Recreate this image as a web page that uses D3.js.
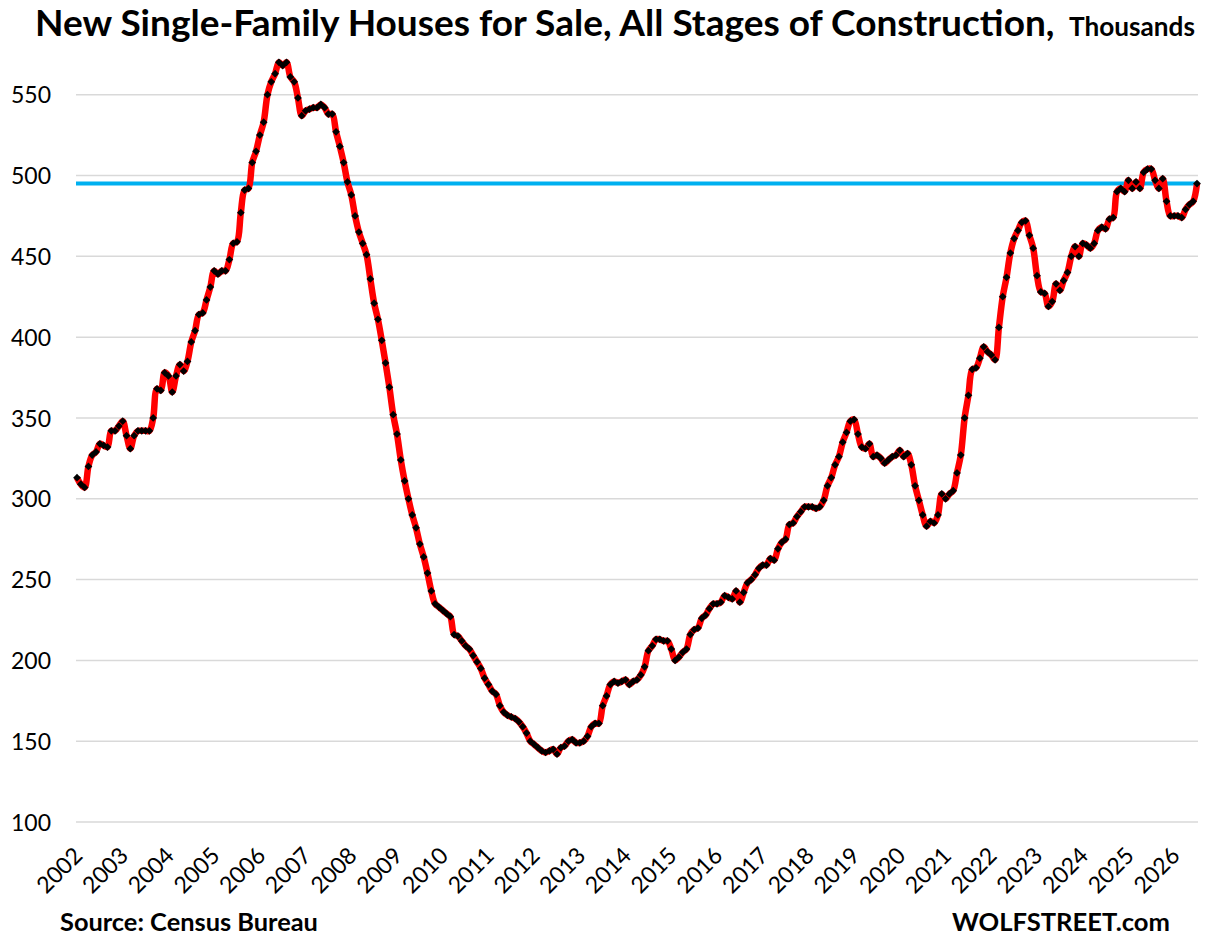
<!DOCTYPE html>
<html>
<head>
<meta charset="utf-8">
<script src="https://cdn.jsdelivr.net/npm/d3@7"></script>
<style>
  body { margin: 0; background: #ffffff; }
  svg { display: block; }
  text { font-family: Lato, "Open Sans", sans-serif; fill: #000000; }
</style>
</head>
<body>
<svg id="chart" width="1211" height="947"></svg>
<script>
// monthly values, Jan 2002 onwards (thousands of houses)
var startYear = 2002;
var forSale = [
	313, 309, 307, 320, 327, 329, 334, 333, 332, 342,
	342, 345, 348, 339, 331, 339, 342, 342, 342, 342,
	350, 368, 367, 378, 376, 366, 376, 383, 379, 385,
	397, 404, 414, 415, 423, 431, 441, 439, 441, 441,
	448, 458, 459, 477, 491, 492, 508, 515, 525, 533,
	550, 558, 563, 570, 568, 570, 561, 558, 548, 537,
	540, 541, 542, 542, 544, 542, 538, 538, 527, 518,
	508, 496, 488, 475, 465, 458, 451, 436, 421, 411,
	398, 384, 369, 352, 340, 324, 311, 300, 290, 282,
	272, 264, 254, 243, 235, 233, 231, 229, 227, 216,
	215, 212, 209, 207, 203, 199, 195, 189, 185, 181,
	179, 172, 168, 166, 165, 164, 162, 159, 155, 150,
	148, 146, 144, 143, 144, 145, 142, 146, 147, 150,
	151, 149, 149, 150, 153, 159, 161, 161, 172, 178,
	185, 187, 186, 187, 188, 185, 187, 188, 191, 196,
	206, 209, 213, 213, 212, 212, 207, 200, 202, 205,
	207, 216, 219, 220, 226, 228, 232, 235, 235, 236,
	240, 239, 238, 243, 236, 242, 248, 250, 253, 257,
	259, 259, 263, 262, 269, 273, 275, 284, 285, 289,
	292, 295, 295, 295, 294, 295, 299, 308, 313, 321,
	326, 335, 341, 348, 349, 340, 332, 331, 334, 326,
	327, 325, 322, 324, 326, 327, 330, 326, 328, 321,
	308, 299, 290, 283, 286, 285, 290, 303, 300, 303,
	305, 316, 327, 350, 364, 380, 381, 387, 394, 391,
	389, 386, 406, 425, 437, 452, 461, 466, 471, 472,
	463, 455, 438, 428, 427, 419, 422, 433, 429, 435,
	440, 450, 456, 450, 458, 457, 455, 458, 466, 468,
	467, 473, 474, 490, 492, 490, 497, 492, 496, 492,
	502, 504, 504, 497, 492, 498, 484, 475, 475, 475,
	474, 479, 482, 484, 495
];
var yTicks = [100, 150, 200, 250, 300, 350, 400, 450, 500, 550];
var yearLabels = d3.range(2002, 2027);
var refLevel = 495;   // latest value, drawn across the chart

var titleText = "New Single-Family Houses for Sale, All Stages of Construction,";
var unitText = "Thousands";
var sourceText = "Source: Census Bureau";
var siteText = "WOLFSTREET.com";

var svg = d3.select("#chart");

var x = d3.scaleLinear()
	.domain([0, forSale.length - 1])
	.range([77, 1197]);
var y = d3.scaleLinear()
	.domain([100, 550])
	.range([822, 94.7]);

// gridlines
svg.append("g")
	.selectAll("line")
	.data(yTicks)
	.join("line")
	.attr("x1", 76)
	.attr("x2", 1198)
	.attr("y1", function(d){ return y(d); })
	.attr("y2", function(d){ return y(d); })
	.attr("stroke", "#d9d9d9")
	.attr("stroke-width", 1.5);

// y axis labels, no axis line
var yAxis = d3.axisLeft(y).tickValues(yTicks).tickSize(0).tickPadding(0);
var yg = svg.append("g")
	.attr("transform", "translate(51,0)")
	.call(yAxis);
yg.select(".domain").remove();
yg.selectAll("text")
	.style("font-family", "Lato, 'Open Sans', sans-serif")
	.style("font-size", "23px")
	.attr("dy", "0.35em")
	.attr("fill", "#000");

// x axis: year labels rotated
svg.append("g")
	.selectAll("text")
	.data(yearLabels)
	.join("text")
	.attr("text-anchor", "end")
	.attr("transform", function(d){
		var tx = x((d - startYear) * 12) + 7;
		return "translate(" + tx + ",857) rotate(-45)";
	})
	.style("font-size", "23px")
	.text(function(d){ return d; });

// reference line at latest level
svg.append("line")
	.attr("x1", 76)
	.attr("x2", 1198)
	.attr("y1", y(refLevel))
	.attr("y2", y(refLevel))
	.attr("stroke", "#00b0f0")
	.attr("stroke-width", 4);

// the red series line
var line = d3.line()
	.x(function(d, i){ return x(i); })
	.y(function(d){ return y(d); })
	.curve(d3.curveCatmullRom.alpha(0.5));

svg.append("path")
	.datum(forSale)
	.attr("d", line)
	.attr("fill", "none")
	.attr("stroke", "#ff0000")
	.attr("stroke-width", 6.5)
	.attr("stroke-linejoin", "round");

// black diamond markers
var marker = d3.symbol().type(d3.symbolSquare).size(30);
svg.append("g")
	.selectAll("path")
	.data(forSale)
	.join("path")
	.attr("d", marker)
	.attr("transform", function(d, i){
		return "translate(" + x(i) + "," + y(d) + ") rotate(45)";
	})
	.attr("fill", "#000000");

// fit a text element to a target width by adjusting its font size
function fitWidth(sel, w){
	var len = sel.node().getComputedTextLength();
	var size = parseFloat(sel.style("font-size"));
	sel.style("font-size", (size * w / len) + "px");
}

var title = svg.append("text")
	.attr("x", 35)
	.attr("y", 36)
	.style("font-weight", "bold")
	.style("font-size", "31px")
	.text(titleText);
fitWidth(title, 1020);

var unit = svg.append("text")
	.attr("x", 1069)
	.attr("y", 36)
	.style("font-weight", "bold")
	.style("font-size", "20px")
	.text(unitText);
fitWidth(unit, 126);

var source = svg.append("text")
	.attr("x", 60)
	.attr("y", 931)
	.style("font-weight", "bold")
	.style("font-size", "22px")
	.text(sourceText);
fitWidth(source, 258);

var site = svg.append("text")
	.attr("x", 952)
	.attr("y", 931)
	.style("font-weight", "bold")
	.style("font-size", "22px")
	.text(siteText);
fitWidth(site, 218);
</script>
</body>
</html>
